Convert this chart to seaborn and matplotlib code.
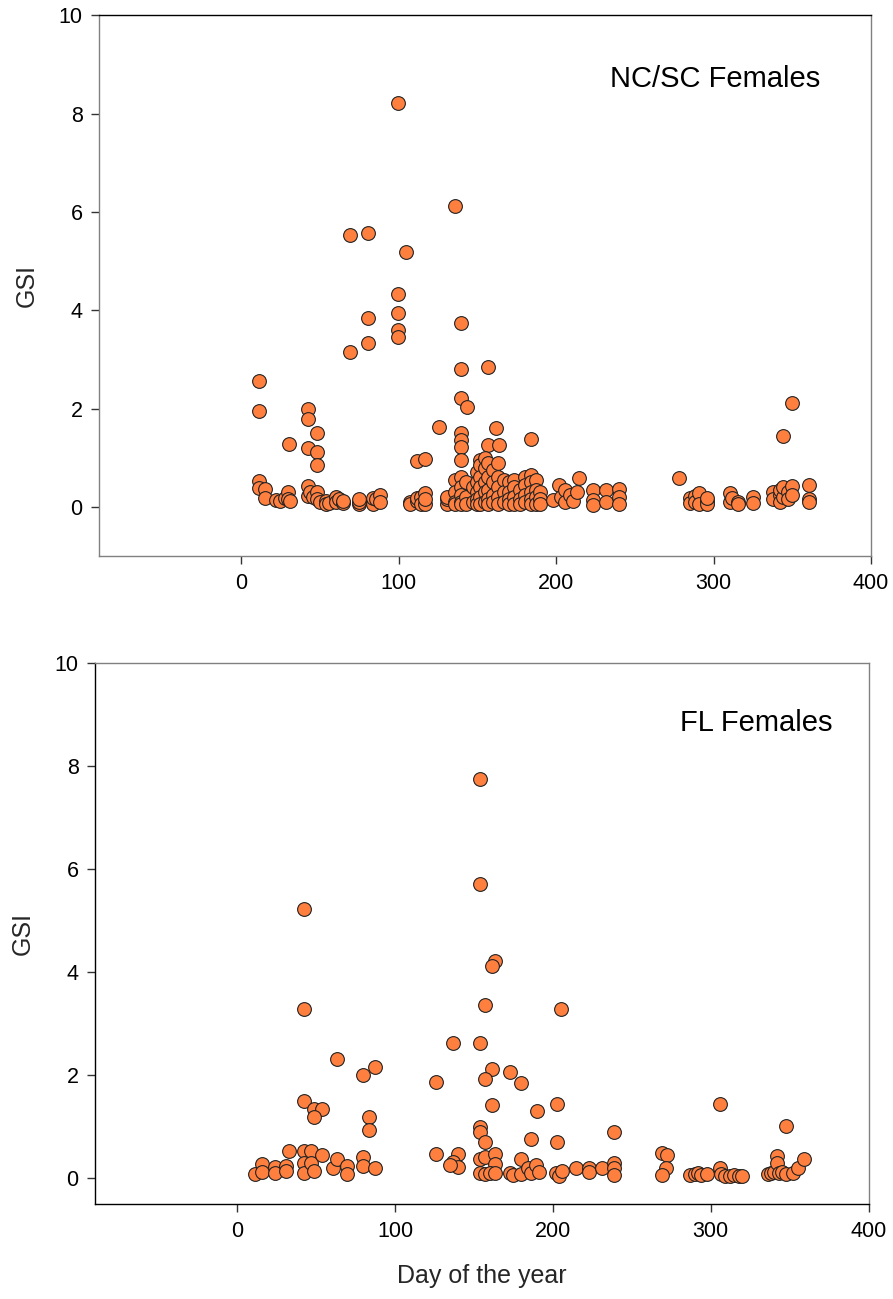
import numpy as np
import pandas as pd
import matplotlib
matplotlib.use("Agg")
import matplotlib.pyplot as plt
import seaborn as sns

# NC/SC females: day of year and gonadosomatic index
ncsc_day = [
    99.6, 135.6, 69.2, 80.6, 104.5, 99.6, 99.6, 80.6, 99.6, 99.6, 139.4, 80.6, 69.2,
    139.4, 157.1, 11.4, 11.4, 42.3, 42.3, 139.4, 143.4, 48.0, 30.2, 42.3, 48.0, 48.0,
    126.0, 161.6, 139.4, 139.4, 139.4, 157.1, 163.7, 184.4, 111.9, 116.8, 139.4,
    349.6, 344.3, 278.3, 214.5,
    11.4, 11.4, 15.2, 15.2, 22, 25, 28, 30, 30, 31,
    42.3, 42.3, 44, 46, 48, 48, 50, 54, 54, 56, 60, 60, 62, 65, 65,
    75, 75, 75, 84, 84, 84, 86, 88, 88,
    107, 107, 112, 112, 114, 114, 117, 117, 117,
    131, 131, 131, 135.6, 135.6, 135.6, 135.6,
    139.4, 139.4, 139.4, 139.4, 139.4, 143, 143, 143, 147, 147,
    150, 150, 150, 150, 150, 152, 152, 152, 152, 152, 152,
    155, 155, 155, 155, 155, 157, 157, 157, 157, 157, 160, 160, 160, 160,
    163, 163, 163, 163, 163, 167, 167, 167, 170, 170, 170, 170,
    173, 173, 173, 173, 177, 177, 177, 180, 180, 180, 180,
    184, 184, 184, 184, 184, 187, 187, 187, 187, 190, 190, 190,
    198, 202, 203, 206, 206, 209, 211, 213,
    223.7, 223.7, 223.7, 232, 232, 240, 240, 240,
    285, 285, 288, 288, 291, 291, 296, 296, 296,
    310.6, 310.6, 312, 315.6, 315.6, 324.8, 324.8,
    338, 338, 342, 342, 342, 344, 344, 347, 347, 350, 350,
    360.6, 360.6, 360.6,
]
ncsc_gsi = [
    8.22, 6.13, 5.54, 5.58, 5.19, 4.34, 3.94, 3.85, 3.60, 3.45, 3.73, 3.33, 3.16,
    2.80, 2.84, 2.55, 1.94, 2.00, 1.78, 2.21, 2.04, 1.51, 1.27, 1.19, 1.12, 0.86,
    1.62, 1.60, 1.51, 1.36, 1.22, 1.26, 1.26, 1.39, 0.93, 0.97, 0.95,
    2.12, 1.44, 0.59, 0.58,
    0.53, 0.38, 0.37, 0.17, 0.14, 0.12, 0.18, 0.30, 0.15, 0.12,
    0.43, 0.23, 0.30, 0.20, 0.30, 0.15, 0.10, 0.12, 0.05, 0.08, 0.20, 0.10, 0.15, 0.08, 0.12,
    0.05, 0.10, 0.15, 0.10, 0.05, 0.18, 0.15, 0.25, 0.10,
    0.10, 0.05, 0.12, 0.18, 0.20, 0.05, 0.28, 0.05, 0.15,
    0.05, 0.15, 0.20, 0.55, 0.30, 0.10, 0.05,
    0.60, 0.40, 0.25, 0.10, 0.05, 0.50, 0.20, 0.05, 0.40, 0.10,
    0.70, 0.50, 0.30, 0.15, 0.05, 0.95, 0.85, 0.60, 0.40, 0.20, 0.05,
    1.00, 0.80, 0.50, 0.30, 0.10, 0.90, 0.60, 0.35, 0.15, 0.05, 0.75, 0.50, 0.25, 0.10,
    0.90, 0.60, 0.40, 0.20, 0.05, 0.55, 0.30, 0.10, 0.50, 0.30, 0.15, 0.05,
    0.55, 0.40, 0.20, 0.05, 0.35, 0.15, 0.05, 0.60, 0.45, 0.25, 0.10,
    0.65, 0.50, 0.30, 0.15, 0.05, 0.55, 0.35, 0.20, 0.05, 0.30, 0.15, 0.05,
    0.14, 0.44, 0.20, 0.34, 0.10, 0.25, 0.12, 0.30,
    0.34, 0.14, 0.04, 0.34, 0.10, 0.37, 0.20, 0.05,
    0.17, 0.08, 0.22, 0.10, 0.28, 0.05, 0.12, 0.05, 0.18,
    0.28, 0.10, 0.18, 0.10, 0.05, 0.20, 0.08,
    0.30, 0.15, 0.25, 0.35, 0.10, 0.20, 0.40, 0.30, 0.15, 0.42, 0.25,
    0.44, 0.16, 0.10,
]

# FL females: day of year and gonadosomatic index
fl_day = [
    153.7, 153.7, 42.0, 163.0, 161.1, 42.0, 157.1, 205.4, 136.4, 154.1, 63.3, 79.8, 87.4,
    126.0, 161.1, 157.1, 173.1, 179.5, 42.0, 48.6, 53.8, 48.6, 83.2, 83.2, 161.1, 190.2,
    202.3, 154.1, 154.1, 157.1, 186.2, 202.3, 238.8, 305.9, 348.0,
    126, 139.6, 136.4, 139.6, 134.8, 153.7, 157, 163, 163, 153.7, 157, 160, 163, 173, 175,
    179.5, 179.5, 184, 186, 189, 191,
    11.2, 15.4, 15.4, 23.9, 23.9, 30.9, 30.9, 33, 42, 42, 42, 46.4, 46.4, 48.6, 53.8,
    60.8, 63.3, 69.3, 69.3, 79.8, 79.8, 87.4,
    269.2, 272, 271.5, 269.2, 287, 290, 292, 294, 297.5, 306, 306.5, 309, 312, 315, 318, 320,
    336, 338, 340, 342, 342, 343, 345, 348, 352, 355.4, 359,
    202, 204, 206, 214.9, 223, 223, 231.4, 238.8, 238.8, 238.8,
]
fl_gsi = [
    7.74, 5.72, 5.22, 4.22, 4.12, 3.29, 3.37, 3.29, 2.62, 2.63, 2.32, 2.01, 2.16,
    1.86, 2.13, 1.92, 2.06, 1.84, 1.50, 1.35, 1.35, 1.19, 1.18, 0.93, 1.43, 1.30,
    1.45, 1.00, 0.90, 0.70, 0.76, 0.70, 0.90, 1.45, 1.02,
    0.48, 0.48, 0.31, 0.21, 0.25, 0.38, 0.41, 0.48, 0.28, 0.11, 0.08, 0.10, 0.10, 0.10, 0.07,
    0.38, 0.08, 0.20, 0.10, 0.25, 0.12,
    0.09, 0.28, 0.12, 0.21, 0.10, 0.24, 0.15, 0.53, 0.52, 0.29, 0.11, 0.53, 0.29, 0.15, 0.45,
    0.20, 0.37, 0.24, 0.08, 0.41, 0.24, 0.20,
    0.50, 0.45, 0.19, 0.07, 0.07, 0.08, 0.10, 0.06, 0.08, 0.20, 0.08, 0.05, 0.05, 0.06, 0.05, 0.05,
    0.08, 0.10, 0.12, 0.43, 0.30, 0.10, 0.12, 0.08, 0.10, 0.19, 0.38,
    0.10, 0.05, 0.15, 0.19, 0.20, 0.12, 0.19, 0.30, 0.20, 0.07,
]

x_ticks = [0, 100, 200, 300, 400]
y_ticks = [0, 2, 4, 6, 8, 10]

sns.set_theme(style="white")
plt.rcParams["font.family"] = ["Liberation Sans", "DejaVu Sans"]

fig = plt.figure(figsize=(8.93, 12.99), dpi=100)
ax_top = fig.add_axes([0.1112, 0.5720, 0.8642, 0.4162])
ax_bot = fig.add_axes([0.1067, 0.0731, 0.8659, 0.4165])

dot_face = "#FF7F3F"
panels = [
    (ax_top, ncsc_day, ncsc_gsi, "NC/SC Females", (0.662, 0.882), (-1, 10)),
    (ax_bot, fl_day, fl_gsi, "FL Females", (0.756, 0.889), (-0.5, 10)),
]

for ax, days, gsi, label, pos, ylim in panels:
    df = pd.DataFrame({"day": days, "gsi": gsi})
    sns.scatterplot(data=df, x="day", y="gsi", ax=ax, color=dot_face,
                    edgecolor="#222222", linewidth=0.8, s=98, legend=False, zorder=3)
    ax.set_xlim(-90, 400)
    ax.set_ylim(*ylim)
    ax.set_xticks(x_ticks)
    ax.set_yticks(y_ticks)
    ax.tick_params(axis="both", direction="out", length=6, width=1,
                   color="#333333", labelsize=15.5, labelcolor="black", pad=6,
                   bottom=True, left=True)
    ax.text(pos[0], pos[1], label, transform=ax.transAxes, ha="left",
            va="center", fontsize=21, color="black")
    ax.set_ylabel("GSI", fontsize=18, labelpad=14)
    ax.set_xlabel("")
    for side in ["top", "bottom", "left", "right"]:
        ax.spines[side].set_visible(True)
        ax.spines[side].set_linewidth(1.0)
        ax.spines[side].set_color("#808080")

ax_top.spines["top"].set_color("black")
ax_bot.spines["left"].set_color("black")
ax_bot.spines["bottom"].set_color("black")
ax_bot.set_xlabel("Day of the year", fontsize=18, labelpad=16)

fig.savefig("out.png", dpi=100)
